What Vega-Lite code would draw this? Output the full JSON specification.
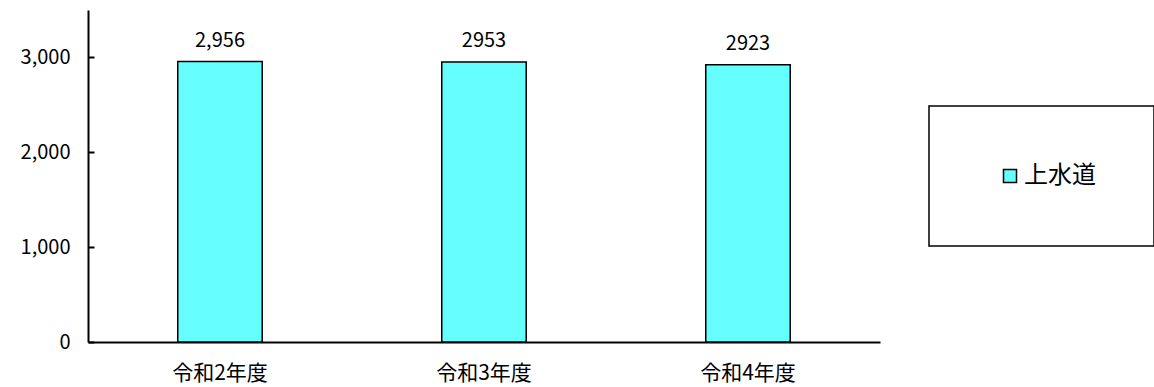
{
  "$schema": "https://vega.github.io/schema/vega-lite/v6.json",
  "autosize": "none",
  "width": 792,
  "height": 332,
  "padding": {"left": 88, "top": 10, "right": 274, "bottom": 45},
  "background": "white",
  "config": {"view": {"stroke": null}, "font": "Noto Sans CJK JP"},
  "data": {"values": [
    {"year": "令和2年度", "value": 2956, "label": "2,956", "series": "上水道"},
    {"year": "令和3年度", "value": 2953, "label": "2953", "series": "上水道"},
    {"year": "令和4年度", "value": 2923, "label": "2923", "series": "上水道"}
  ]},
  "encoding": {
    "x": {"field": "year", "type": "nominal", "sort": null,
      "scale": {"paddingInner": 0.68, "paddingOuter": 0.34},
      "axis": {"title": null, "labelAngle": 0, "ticks": false, "domainColor": "black", "domainWidth": 2,
        "labelFontSize": 21, "labelColor": "black", "labelPadding": 20, "grid": false}},
    "y": {"field": "value", "type": "quantitative",
      "scale": {"domain": [0, 3500], "nice": false},
      "axis": {"title": null, "values": [0, 1000, 2000, 3000], "format": ",.0f", "grid": false,
        "domainColor": "black", "domainWidth": 2, "tickColor": "black", "tickWidth": 2, "tickSize": -6,
        "labelFontSize": 20, "labelColor": "black", "labelPadding": 24}}
  },
  "layer": [
    {"mark": {"type": "bar", "stroke": "black", "strokeWidth": 1.5},
     "encoding": {"color": {"field": "series", "type": "nominal",
        "scale": {"range": ["#66FFFF"]},
        "legend": {"title": null, "orient": "none", "legendX": 841, "legendY": 96,
          "padding": 58, "strokeColor": "black", "fillColor": "white",
          "symbolType": "square", "symbolSize": 169, "symbolStrokeColor": "black", "symbolStrokeWidth": 1.5,
          "symbolOffset": 11, "labelFontSize": 24, "labelColor": "black", "labelOffset": 2,
          "encode": {"legend": {"update": {"strokeWidth": {"value": 1.5}}}}}}}},
    {"mark": {"type": "text", "baseline": "bottom", "dy": -11, "fontSize": 20, "color": "black"},
     "encoding": {"text": {"field": "label"}}}
  ]
}
